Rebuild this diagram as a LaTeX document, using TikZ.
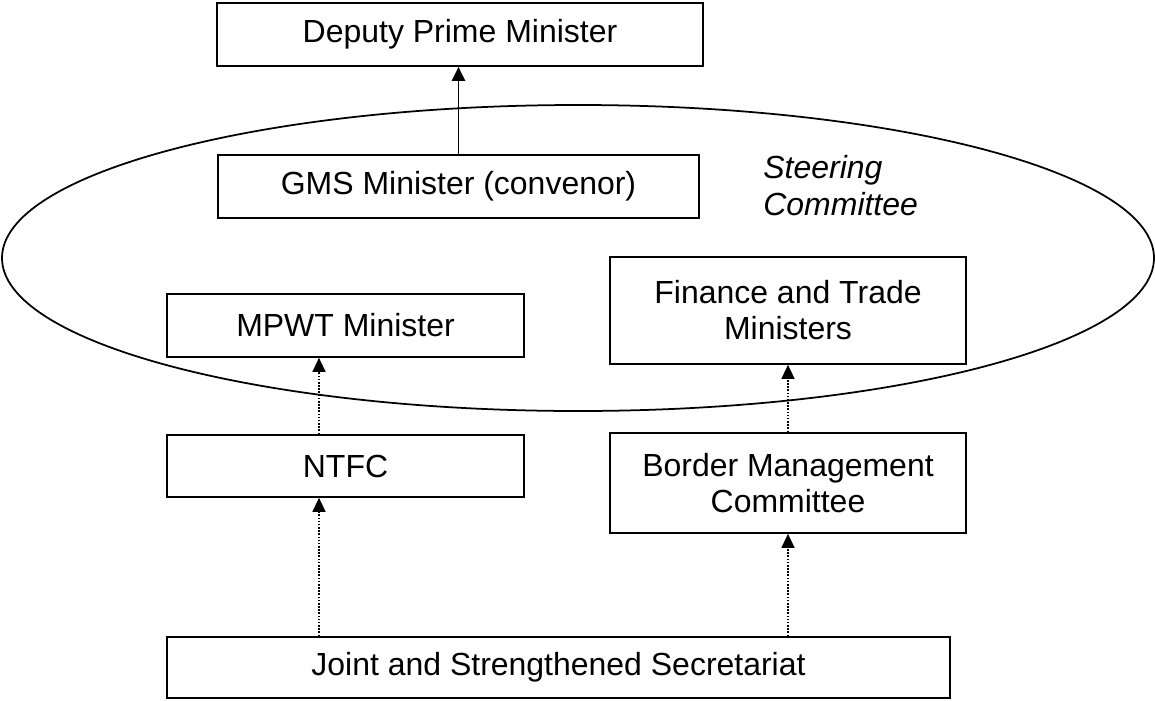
\documentclass[tikz,border=0pt]{standalone}
\usepackage{fontspec}
\setmainfont{Liberation Sans}
\usetikzlibrary{arrows.meta}

\begin{document}
\begin{tikzpicture}[x=0.02cm, y=-0.02cm,
  box/.style={draw, line width=1pt, inner sep=0pt, align=center,
    font=\fontsize{18.2}{20.5}\selectfont},
  uparrow/.style={line width=1.1pt, -{Triangle[length=8pt,width=7.5pt]}},
  dotarrow/.style={line width=0.6pt, dash pattern=on 0.9pt off 0.9pt,
    -{Triangle[length=8pt,width=7.5pt]}}]

\useasboundingbox (0,0) rectangle (1155,700);

%steering committee
\draw[line width=1pt] (578,258) ellipse [x radius=576, y radius=153];
\node[anchor=north west, inner sep=0pt, align=left,
  font=\fontsize{18.2}{21}\selectfont\itshape] at (763,155) (sc) {Steering\\Committee};

%boxes
\node[box, minimum width=486*0.02cm, minimum height=63*0.02cm] at (460,34.5) (dpm) {Deputy Prime Minister};
\node[box, minimum width=481*0.02cm, minimum height=63*0.02cm] at (458.5,186.5) (gms) {GMS Minister (convenor)};
\node[box, minimum width=357*0.02cm, minimum height=63*0.02cm] at (345.5,325.5) (mpwt) {MPWT Minister};
\node[box, minimum width=356*0.02cm, minimum height=107*0.02cm] at (788,310.5) (fin) {Finance and Trade\\Ministers};
\node[box, minimum width=357*0.02cm, minimum height=62*0.02cm] at (345.5,466) (ntfc) {NTFC};
\node[box, minimum width=356*0.02cm, minimum height=100*0.02cm] at (788,483) (bmc) {Border Management\\Committee};
\node[box, minimum width=783*0.02cm, minimum height=61*0.02cm] at (558.5,667.5) (jss) {Joint and Strengthened Secretariat};

\coordinate (lx) at (319,0);

%links
\draw[uparrow] (gms.north) -- (gms.north |- dpm.south);
\draw[dotarrow] (ntfc.north -| lx) -- (mpwt.south -| lx);
\draw[dotarrow] (jss.north -| lx) -- (ntfc.south -| lx);
\draw[dotarrow] (bmc.north) -- (fin.south);
\draw[dotarrow] (jss.north -| bmc.south) -- (bmc.south);

\end{tikzpicture}
\end{document}
